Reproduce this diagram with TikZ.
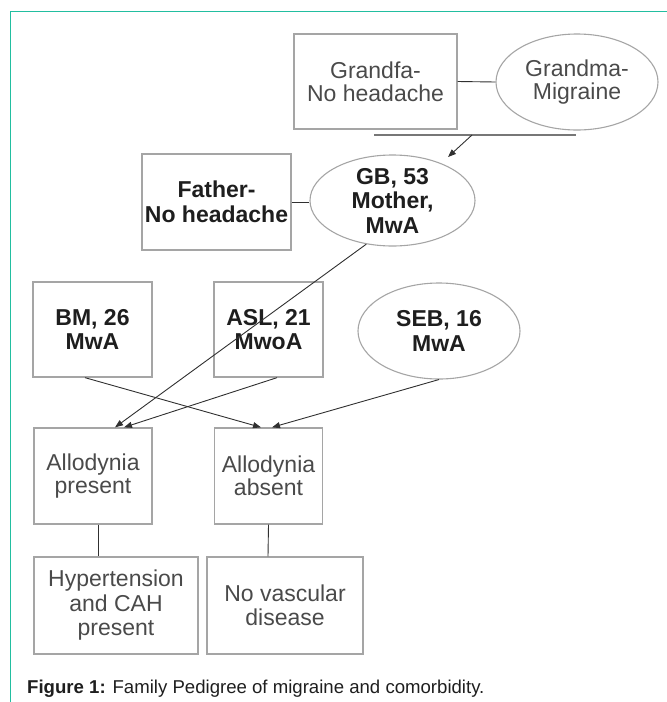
\documentclass[tikz,border=0pt]{standalone}
\usepackage{fontspec}
\setmainfont{Liberation Sans}
\usetikzlibrary{shapes.geometric,arrows.meta}
\definecolor{framecol}{HTML}{22BEA0}
\definecolor{boxgray}{HTML}{A5A5A5}
\definecolor{txtgray}{HTML}{4A4A4A}
\definecolor{txtdark}{HTML}{1E1E1E}
\definecolor{linedark}{HTML}{303030}
\definecolor{bargray}{HTML}{777777}
\begin{document}
\begin{tikzpicture}[x=1pt,y=-1pt,
  box/.style={draw=boxgray,line width=1.3pt,rectangle,inner sep=0pt,align=center},
  oval/.style={draw=boxgray,line width=1.1pt,ellipse,inner sep=0pt},
  reg/.style={font=\fontsize{23}{23}\selectfont,text=txtgray},
  bld/.style={font=\fontsize{23}{24.5}\selectfont\bfseries,text=txtdark},
  link/.style={draw=linedark,line width=0.9pt},
  arr/.style={link,-{Triangle[length=8pt,width=6pt]}}]
\useasboundingbox (0,0) rectangle (667,702);
% frame
\coordinate (fc) at (10.7,11.7);
\coordinate (fr) at (667,11.7);
\coordinate (fb) at (10.7,702);
\draw[framecol,line width=1.3pt] (fr) -- (fc) -- (fb);
% grandparents
\node[box,reg,minimum width=163pt,minimum height=95pt] (gf) at (375.5,81.5) {Grandfa-\\No headache};
\node[oval,minimum width=162pt,minimum height=96pt,
  label={[reg,align=center]center:{Grandma-\\Migraine}}] (gm) at (577,82) {};
\draw[link] (gf.east) -- (gm.west);
\coordinate (barl) at (374,135);
\coordinate (barr) at (576,135);
\draw[bargray,line width=2pt] (barl) -- (barr);
\coordinate (bars) at (472,135);
\coordinate (gbtip) at (448,157);
\draw[arr] (bars) -- (gbtip);
% parents
\node[box,bld,minimum width=149pt,minimum height=96pt] (father) at (216.5,202) {Father-\\No headache};
\node[oval,minimum width=165pt,minimum height=91pt,
  label={[bld,align=center]center:{GB, 53\\Mother,\\MwA}}] (gb) at (392.5,200.5) {};
\draw[link] (father.east) -- (father.east -| gb.west);
% children
\node[box,bld,minimum width=119pt,minimum height=95pt] (bm) at (92.5,329.5) {BM, 26\\MwA};
\node[box,bld,minimum width=109pt,minimum height=95pt] (asl) at (268.5,329.5) {ASL, 21\\MwoA};
\node[oval,minimum width=162pt,minimum height=96pt,
  label={[bld,align=center]center:{SEB, 16\\MwA}}] (seb) at (439,331) {};
% allodynia
\node[box,reg,minimum width=118pt,minimum height=96pt] (ap) at (93,476) {Allodynia\\present};
\node[box,reg,minimum width=108pt,minimum height=96pt] (aa) at (268.5,476) {Allodynia\\absent};
% comorbidity
\node[box,reg,font=\fontsize{23}{24.5}\selectfont,minimum width=164pt,minimum height=97pt] (hyp) at (116,605.5) {Hypertension\\and CAH\\present};
\node[box,reg,font=\fontsize{23}{24}\selectfont,minimum width=156pt,minimum height=97pt] (nv) at (285,605.5) {No vascular\\disease};
% arrows
\draw[arr] (gb.239) -- ([xshift=22pt]ap.north);
\draw[arr] ([xshift=8.5pt]asl.south) -- ([xshift=31pt]ap.north);
\draw[arr] ([xshift=-7.5pt]bm.south) -- ([xshift=-7.5pt]aa.north);
\draw[arr] (seb.south) -- ([xshift=3.5pt]aa.north);
\draw[link] ([xshift=5pt]ap.south) -- ([xshift=-18pt]hyp.north);
\draw[link] (aa.south) -- ([xshift=-17pt]nv.north);
% caption
\node[anchor=base west,inner sep=0pt,font=\fontsize{18.6}{22}\selectfont,text=txtdark] (cap) at (27,693) {\textbf{Figure 1:} Family Pedigree of migraine and comorbidity.};
\end{tikzpicture}
\end{document}
